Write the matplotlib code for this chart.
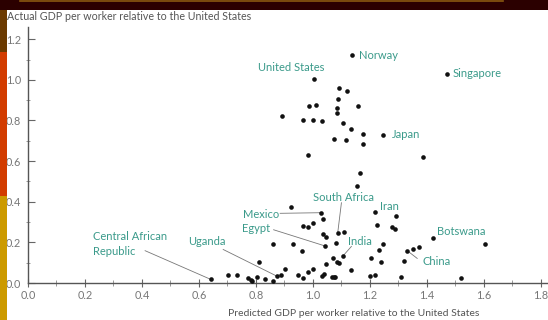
import matplotlib
matplotlib.use("Agg")
import matplotlib.pyplot as plt
from matplotlib.patches import Rectangle
from matplotlib.lines import Line2D
from matplotlib.ticker import MultipleLocator, FormatStrFormatter

plt.rcParams['font.family'] = ['Lato', 'DejaVu Sans']

# Labelled countries: predicted vs actual GDP per worker (US = 1)
countries = ["Norway", "United States", "Singapore", "Japan", "South Africa",
             "Mexico", "Egypt", "Iran", "India", "Botswana", "China",
             "Uganda", "Central African\nRepublic"]
country_pred = [1.136, 1.003, 1.470, 1.247, 1.087, 1.028, 1.043, 1.219,
                1.106, 1.421, 1.331, 0.873, 0.641]
country_actual = [1.121, 1.003, 1.031, 0.730, 0.247, 0.346, 0.182, 0.348,
                  0.134, 0.221, 0.159, 0.034, 0.018]

# Remaining countries
other_pred = [1.092, 1.118, 1.087, 0.986, 1.011, 1.085, 1.085, 1.157, 0.891,
              0.966, 1.001, 1.033, 1.106, 1.133, 1.177, 1.074, 1.115, 1.174,
              0.984, 1.387, 1.165, 1.156,
              0.923, 1.034, 0.966, 0.984, 0.999, 1.036, 1.046, 1.109, 1.080,
              1.290, 1.226, 1.276, 1.288, 0.860, 0.931, 0.960, 1.070, 1.083,
              1.092, 1.046, 1.132, 1.247, 1.233, 1.205, 1.239, 1.350, 1.371,
              1.319, 1.605, 0.809,
              0.701, 0.734, 0.773, 0.781, 0.785, 0.805, 0.833, 0.860, 0.888,
              0.902, 0.946, 0.966, 0.981, 1.001, 1.033, 1.039, 1.066, 1.074,
              1.078, 1.200, 1.218, 1.308, 1.519]
other_actual = [0.961, 0.946, 0.904, 0.871, 0.874, 0.861, 0.838, 0.869, 0.823,
                0.802, 0.802, 0.797, 0.786, 0.759, 0.731, 0.708, 0.705, 0.685,
                0.628, 0.620, 0.541, 0.477,
                0.375, 0.313, 0.280, 0.274, 0.293, 0.241, 0.228, 0.252, 0.198,
                0.330, 0.284, 0.274, 0.267, 0.193, 0.193, 0.159, 0.125, 0.105,
                0.097, 0.093, 0.062, 0.193, 0.161, 0.125, 0.105, 0.167, 0.176,
                0.107, 0.192, 0.102,
                0.041, 0.039, 0.025, 0.015, 0.011, 0.031, 0.020, 0.011, 0.039,
                0.069, 0.041, 0.023, 0.056, 0.069, 0.034, 0.044, 0.031, 0.028,
                0.028, 0.034, 0.039, 0.031, 0.023]

# Label text anchor, alignment, and optional leader-line start point
label_xy = {
    "Norway": (1.160, 1.121, "left", None),
    "United States": (0.923, 1.059, "center", None),
    "Singapore": (1.491, 1.031, "left", None),
    "Japan": (1.276, 0.733, "left", None),
    "South Africa": (1.109, 0.421, "center", (1.100, 0.395)),
    "Mexico": (0.818, 0.339, "center", (0.885, 0.343)),
    "Egypt": (0.800, 0.266, "center", (0.862, 0.262)),
    "Iran": (1.237, 0.375, "left", None),
    "India": (1.123, 0.203, "left", (1.135, 0.180)),
    "Botswana": (1.436, 0.252, "left", None),
    "China": (1.384, 0.108, "left", (1.366, 0.121)),
    "Uganda": (0.628, 0.203, "center", (0.685, 0.165)),
    "Central African\nRepublic": (0.228, 0.192, "left", (0.411, 0.159)),
}

W, H = 548, 320
fig = plt.figure(figsize=(W / 100, H / 100), dpi=100)
fig.patch.set_facecolor("white")

# Slide decoration: dark header band and coloured left strip
fig.patches.append(Rectangle((0, 1 - 10 / H), 1, 10 / H, transform=fig.transFigure,
                             facecolor="#2b0000", edgecolor="none", zorder=0))
fig.lines.append(Line2D([20 / W, 503 / W], [1 - 1 / H, 1 - 1 / H], transform=fig.transFigure,
                        color="#8a5a10", lw=1.2))
strip = [(10, 52, "#6b3a00"), (52, 196, "#d23c00"), (196, 320, "#cc9a00")]
for top, bot, col in strip:
    fig.patches.append(Rectangle((0, 1 - bot / H), 7 / W, (bot - top) / H,
                                 transform=fig.transFigure, facecolor=col,
                                 edgecolor="none", zorder=0))

ax = fig.add_axes([28 / W, 37 / H, (W - 28) / W, (283 - 27) / H])
ax.set_xlim(0, 1.825)
ax.set_ylim(0, 1.26)
ax.patch.set_alpha(0)

for s in ("top", "right"):
    ax.spines[s].set_visible(False)
for s in ("left", "bottom"):
    ax.spines[s].set_color("#555555")
    ax.spines[s].set_linewidth(1.0)

ax.xaxis.set_minor_locator(MultipleLocator(0.1))
ax.yaxis.set_minor_locator(MultipleLocator(0.1))
ax.set_yticks([0, 0.2, 0.4, 0.6, 0.8, 1.0, 1.2])
ax.set_xticks([0, 0.2, 0.4, 0.6, 0.8, 1.0, 1.2, 1.4, 1.6, 1.8])
ax.xaxis.set_major_formatter(FormatStrFormatter("%.1f"))
ax.yaxis.set_major_formatter(FormatStrFormatter("%.1f"))
ax.tick_params(axis="x", which="major", direction="inout", length=6, width=0.8,
               color="#666666", labelsize=7.8, labelcolor="#777777", pad=2)
ax.tick_params(axis="x", which="minor", direction="inout", length=4, width=0.6, color="#888888")
ax.tick_params(axis="y", which="major", direction="in", length=5, width=0.8,
               color="#666666", labelsize=7.8, labelcolor="#777777", pad=5)
ax.tick_params(axis="y", which="minor", direction="inout", length=3, width=0.6, color="#888888")

ax.scatter(other_pred, other_actual, s=11, color="#111111", zorder=3, linewidths=0)
ax.scatter(country_pred, country_actual, s=11, color="#111111", zorder=3, linewidths=0)

teal = "#3a9a8a"
for name, px, py in zip(countries, country_pred, country_actual):
    tx, ty, ha, start = label_xy[name]
    ax.text(tx, ty, name, ha=ha, va="center", fontsize=8, color=teal,
            linespacing=1.4, zorder=4)
    if start is not None:
        ax.plot([start[0], px], [start[1], py], color="#777777", lw=0.6, zorder=2)

fig.text(7 / W, 1 - 16 / H, "Actual GDP per worker relative to the United States",
         ha="left", va="center", fontsize=7.7, color="#555555")
fig.text(354 / W, 1 - 313 / H, "Predicted GDP per worker relative to the United States",
         ha="center", va="center", fontsize=7.5, color="#555555")

fig.savefig("out.png", dpi=100)
